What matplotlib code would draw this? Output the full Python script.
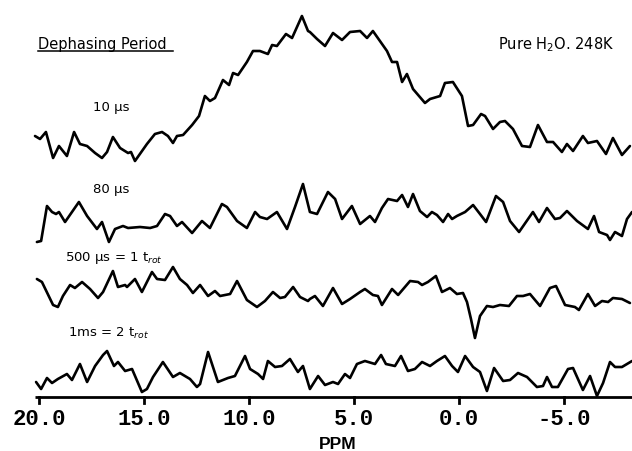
import matplotlib
matplotlib.use("Agg")
import matplotlib.pyplot as plt

# Chemical shift (ppm) and intensity (arb. units) for each dephasing period
ppm_10us = [20.19, 19.95, 19.67, 19.33, 19.05, 18.67, 18.33, 18.05, 17.71, 17.33,
            17.0, 16.76, 16.48, 16.14, 15.76, 15.62, 15.43, 14.86, 14.48, 14.14,
            13.86, 13.62, 13.43, 13.14, 12.71, 12.38, 12.10, 11.86, 11.62, 11.24,
            10.95, 10.76, 10.52, 10.10, 9.81, 9.48, 9.10, 8.90, 8.67, 8.24,
            7.95, 7.48, 7.19, 7.10, 6.76, 6.38, 6.0, 5.57, 5.19, 4.71,
            4.38, 4.10, 3.43, 3.19, 2.95, 2.71, 2.48, 2.19, 1.62, 1.38,
            0.90, 0.67, 0.29, -0.14, -0.43, -0.67, -1.05, -1.24, -1.62, -1.95,
            -2.19, -2.57, -3.0, -3.38, -3.76, -4.19, -4.48, -4.90, -5.14, -5.43,
            -5.90, -6.14, -6.57, -7.0, -7.33, -7.76, -8.14]
int_10us = [13, 10, 17, -9, 3, -7, 17, 5, 3, -4,
            -9, -3, 12, 1, -4, -3, -12, 5, 15, 17,
            13, 6, 13, 14, 24, 33, 53, 48, 51, 69,
            64, 76, 74, 87, 98, 98, 95, 104, 103, 115,
            111, 133, 118, 117, 110, 103, 116, 109, 117, 118,
            111, 118, 98, 87, 87, 67, 75, 60, 46, 50,
            53, 66, 67, 53, 23, 24, 35, 33, 20, 27,
            28, 20, 3, 2, 24, 7, 7, -3, 5, -2,
            13, 6, 8, -5, 11, -6, 3]

ppm_80us = [20.10, 19.90, 19.62, 19.38, 19.19, 19.05, 18.76, 18.10, 17.71, 17.24,
            17.0, 16.67, 16.38, 16.0, 15.76, 15.19, 14.71, 14.38, 14.0, 13.76,
            13.43, 13.19, 12.71, 12.24, 11.86, 11.29, 11.05, 10.57, 10.10, 9.71,
            9.48, 9.14, 8.67, 8.19, 7.81, 7.43, 7.10, 6.76, 6.24, 5.90,
            5.57, 5.10, 4.71, 4.24, 4.0, 3.67, 3.38, 2.95, 2.71, 2.43,
            2.19, 1.86, 1.52, 1.29, 1.05, 0.76, 0.52, 0.33, 0.10, -0.29,
            -0.67, -1.0, -1.29, -1.76, -2.10, -2.43, -2.86, -3.19, -3.52, -3.81,
            -4.19, -4.57, -4.81, -5.14, -5.62, -6.14, -6.43, -6.67, -7.05, -7.19,
            -7.43, -7.76, -8.0, -8.24]
int_80us = [-18, -17, 18, 12, 10, 12, 2, 22, 8, -5,
            2, -18, -5, -2, -4, -3, -4, -2, 10, 8,
            -2, 2, -9, 3, -4, 20, 17, 3, -4, 12,
            7, 5, 12, -5, 17, 40, 12, 10, 32, 25,
            5, 18, 0, 8, 2, 16, 25, 23, 29, 17,
            30, 13, 7, 12, 9, 2, 10, 5, 8, 12,
            19, 10, 2, 28, 22, 3, -8, 2, 12, 2,
            16, 5, 6, 13, 3, -5, 8, -8, -11, -16,
            -8, -12, 5, 12]

ppm_500us = [20.10, 19.86, 19.33, 19.10, 18.86, 18.52, 18.29, 17.95, 17.57, 17.19,
             16.95, 16.48, 16.24, 15.90, 15.81, 15.43, 15.10, 14.62, 14.38, 14.0,
             13.62, 13.29, 12.95, 12.67, 12.33, 11.95, 11.62, 11.38, 10.90, 10.57,
             10.10, 9.62, 9.24, 8.86, 8.52, 8.29, 7.90, 7.57, 7.19, 7.10,
             6.86, 6.48, 6.0, 5.57, 5.19, 4.71, 4.48, 4.10, 3.86, 3.67,
             3.19, 2.90, 2.33, 1.95, 1.76, 1.48, 1.10, 0.81, 0.43, 0.10,
             -0.19, -0.38, -0.57, -0.76, -1.0, -1.33, -1.62, -1.95, -2.38, -2.76,
             -3.05, -3.38, -3.86, -4.33, -4.62, -5.05, -5.52, -5.71, -6.14, -6.48,
             -6.81, -7.10, -7.33, -7.76, -8.14]
int_500us = [15, 12, -11, -13, -2, 9, 6, 12, 5, -4,
             2, 23, 7, 9, 7, 15, 2, 22, 15, 14,
             27, 15, 9, 1, 9, -2, 3, -2, 0, 13,
             -6, -13, -7, 2, -4, -3, 7, -3, -7, -5,
             -2, -12, 6, -10, -5, 2, 5, -1, -2, -11,
             5, -1, 13, 12, 9, 12, 18, 2, 6, 0,
             1, -8, -25, -44, -22, -12, -13, -11, -12, -2,
             -2, 0, -12, 6, 8, -11, -13, -16, 0, -12,
             -7, -8, -4, -5, -9]

ppm_1ms = [20.14, 19.90, 19.62, 19.38, 19.10, 18.67, 18.43, 18.05, 17.71, 17.33,
           16.95, 16.76, 16.43, 16.24, 15.90, 15.57, 15.10, 14.86, 14.57, 14.10,
           13.62, 13.29, 12.81, 12.48, 12.33, 11.95, 11.48, 11.0, 10.67, 10.19,
           9.95, 9.57, 9.33, 9.10, 8.76, 8.43, 8.05, 7.67, 7.43, 7.10,
           6.71, 6.38, 6.0, 5.76, 5.43, 5.19, 4.86, 4.48, 4.0, 3.71,
           3.48, 3.05, 2.76, 2.43, 2.10, 1.76, 1.38, 1.05, 0.67, 0.33,
           0.05, -0.29, -0.67, -1.0, -1.33, -1.67, -2.10, -2.43, -2.81, -3.24,
           -3.71, -4.0, -4.19, -4.43, -4.71, -5.19, -5.43, -5.90, -6.24, -6.57,
           -6.86, -7.19, -7.43, -7.76, -8.24]
int_1ms = [-5, -12, -1, -6, -2, 3, -3, 13, -5, 11,
           22, 26, 11, 15, 6, 8, -15, -12, 0, 15,
           0, 4, -2, -10, -7, 25, -5, -1, 1, 21,
           8, 3, -2, 16, 10, 11, 18, 5, 11, -12,
           1, -8, -5, -7, 3, -1, 13, 16, 13, 22,
           13, 11, 21, 6, 8, 15, 11, 16, 21, 11,
           5, 21, 10, 5, -14, 9, -4, -3, 4, 0,
           -10, -9, 0, -10, -10, 8, 9, -13, 1, -19,
           -6, 15, 10, 10, 16]

tick_positions = [20.0, 15.0, 10.0, 5.0, 0.0, -5.0]
tick_labels = ["20.0", "15.0", "10.0", "5.0", "0.0", "-5.0"]

spectra = [
    (ppm_10us, int_10us, 248),
    (ppm_80us, int_80us, 173),
    (ppm_500us, int_500us, 103),
    (ppm_1ms, int_1ms, 20),
]

W, H = 632, 452
fig = plt.figure(figsize=(W / 100, H / 100), dpi=100)
ax = fig.add_axes([0, 0, 1, 1])
# ppm axis spans the full figure width; vertical units are pixels above the axis line
ax.set_xlim(459 / 21, -173 / 21)
ax.set_ylim(-(H - 398), 398)
ax.axis("off")

for ppm, inten, base in spectra:
    ax.plot(ppm, [base + v for v in inten], color="black", lw=1.9,
            solid_joinstyle="round", solid_capstyle="round")

# baseline axis with downward ticks
ax.plot([20.2, -8.3], [0, 0], color="black", lw=2.0, solid_capstyle="butt")
for t, lab in zip(tick_positions, tick_labels):
    ax.plot([t, t], [0, -6], color="black", lw=2.0)
    ax.text(t, -22, lab, ha="center", va="center", fontsize=16,
            family="Liberation Mono", fontweight="bold")

ax.text(5.8, -47, "PPM", ha="center", va="center", fontsize=12.5,
        family="Liberation Sans", fontweight="bold")

lab_font = dict(family="DejaVu Sans", color="black", transform=ax.transAxes,
                ha="left", va="center")
ax.text(0.060, 1 - 44 / H, "Dephasing Period", fontsize=10.5, **lab_font)
ax.plot([0.060, 0.274], [1 - 51.5 / H, 1 - 51.5 / H], transform=ax.transAxes,
        color="black", lw=1.1)
ax.text(0.788, 1 - 45 / H, r"Pure H$_2$O. 248K", fontsize=10.5, **lab_font)
ax.text(0.147, 1 - 107 / H, "10 µs", fontsize=9.5, **lab_font)
ax.text(0.147, 1 - 190 / H, "80 µs", fontsize=9.5, **lab_font)
ax.text(0.103, 1 - 258 / H, "500 µs = 1 t$_{rot}$", fontsize=9.5, **lab_font)
ax.text(0.108, 1 - 333 / H, "1ms = 2 t$_{rot}$", fontsize=9.5, **lab_font)

fig.savefig("out.png", dpi=100, facecolor="white")
